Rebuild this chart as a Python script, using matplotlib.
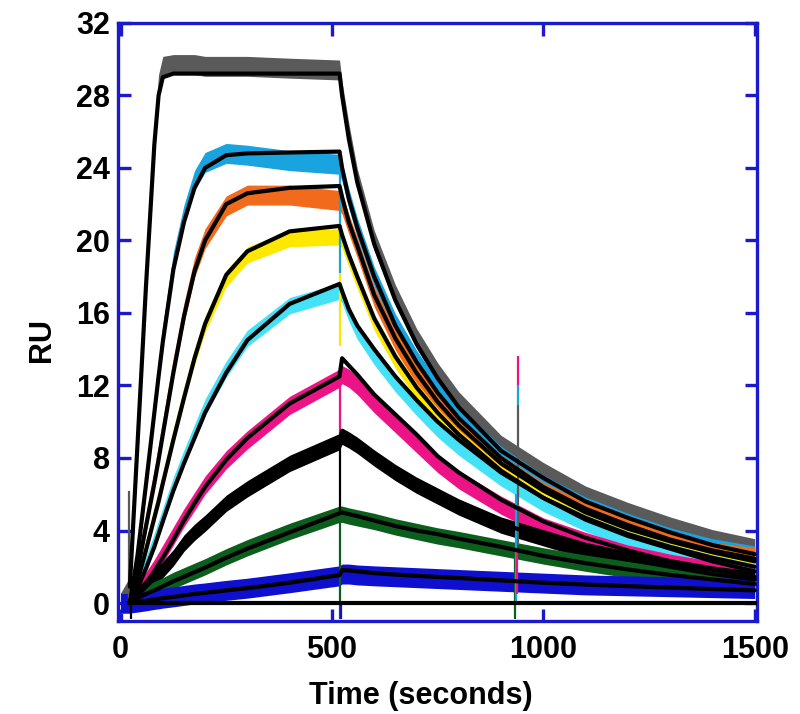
import matplotlib
matplotlib.use("Agg")
import matplotlib.pyplot as plt
import numpy as np

plt.rcParams['font.family'] = ['Liberation Sans', 'DejaVu Sans']
plt.rcParams['font.weight'] = 'bold'

# common time grid (seconds)
time_s = [0, 22, 40, 60, 80, 90, 100, 125, 150, 175, 200, 250, 300, 400, 518,
          524, 540, 560, 600, 650, 700, 750, 800, 900, 1000, 1100, 1200, 1300, 1400, 1500]

# fitted curves (RU)
gray_fit   = [0, 0.9, 8.7, 17.4, 25.3, 28.0, 29.0, 29.2, 29.2, 29.2, 29.2, 29.2, 29.2, 29.2, 29.2,
              28.0, 25.6, 23.2, 19.8, 16.7, 14.3, 12.4, 10.8, 8.4, 6.9, 5.6, 4.7, 3.9, 3.2, 2.7]
cyan_fit   = [0, 0, 2.6, 6.5, 10.5, 12.5, 14.4, 18.4, 21.0, 22.9, 24.0, 24.7, 24.8, 24.85, 24.9,
              24.0, 22.3, 20.7, 18.0, 15.3, 13.3, 11.6, 10.2, 8.0, 6.4, 5.2, 4.3, 3.5, 2.9, 2.45]
orange_fit = [0, 0, 1.8, 4.2, 6.6, 7.9, 9.3, 12.7, 15.8, 18.3, 20.0, 22.0, 22.6, 22.9, 23.0,
              22.4, 21.0, 19.7, 17.0, 14.6, 12.7, 11.1, 9.8, 7.7, 6.2, 5.0, 4.1, 3.4, 2.8, 2.3]
yellow_fit = [0, 0, 1.2, 2.9, 4.7, 5.6, 6.6, 9.0, 11.3, 13.5, 15.4, 18.1, 19.4, 20.5, 20.8,
              20.3, 19.2, 18.0, 15.7, 13.6, 11.9, 10.5, 9.3, 7.3, 5.8, 4.7, 3.8, 3.1, 2.5, 2.0]
aqua_fit   = [0, 0, 0.8, 1.9, 3.1, 3.8, 4.5, 6.2, 7.7, 9.1, 10.5, 12.7, 14.5, 16.5, 17.6,
              17.2, 16.2, 15.3, 14.0, 12.5, 11.2, 10.0, 9.0, 7.2, 5.8, 4.6, 3.7, 3.0, 2.3, 1.75]
pink_fit   = [0, 0, 0.45, 1.1, 1.75, 2.15, 2.5, 3.5, 4.55, 5.5, 6.4, 7.9, 9.1, 11.0, 12.5,
              13.5, 13.1, 12.6, 11.5, 10.4, 9.3, 8.1, 7.2, 5.7, 4.5, 3.6, 2.9, 2.3, 1.85, 1.45]
black_fit  = [0, 0, 0.4, 0.9, 1.35, 1.6, 1.85, 2.5, 3.3, 3.9, 4.4, 5.5, 6.3, 7.7, 8.9,
              9.5, 9.2, 8.9, 8.1, 7.3, 6.6, 6.0, 5.4, 4.4, 3.6, 2.9, 2.4, 2.0, 1.6, 1.3]
green_fit  = [0, 0, 0.25, 0.5, 0.7, 0.8, 0.92, 1.2, 1.45, 1.7, 1.95, 2.5, 3.0, 3.9, 4.95,
              5.0, 4.9, 4.8, 4.55, 4.25, 4.0, 3.8, 3.55, 3.1, 2.6, 2.2, 1.85, 1.55, 1.3, 1.05]
blue_fit   = [0, 0, 0.05, 0.12, 0.2, 0.23, 0.27, 0.34, 0.42, 0.5, 0.56, 0.7, 0.82, 1.12, 1.54,
              1.82, 1.8, 1.75, 1.65, 1.57, 1.5, 1.44, 1.38, 1.25, 1.12, 1.02, 0.93, 0.85, 0.77, 0.7]

# measured traces (centre of noisy data, RU)
gray_data   = [0, 0.9, 8.7, 17.6, 25.8, 28.6, 29.6, 29.7, 29.7, 29.7, 29.6, 29.6, 29.6, 29.5, 29.4,
               28.2, 25.9, 23.4, 20.0, 17.0, 14.6, 12.7, 11.1, 8.7, 7.2, 5.9, 5.0, 4.2, 3.5, 3.0]
cyan_data   = [0, 0, 2.7, 6.7, 10.8, 12.9, 14.8, 18.8, 21.4, 23.3, 24.3, 24.8, 24.7, 24.4, 24.2,
               23.8, 22.3, 20.7, 18.0, 15.4, 13.4, 11.7, 10.3, 8.1, 6.5, 5.3, 4.4, 3.6, 3.0, 2.6]
orange_data = [0, 0, 1.9, 4.4, 6.9, 8.2, 9.6, 13.0, 16.0, 18.5, 20.1, 21.9, 22.5, 22.5, 22.2,
               22.0, 20.9, 19.6, 16.9, 14.5, 12.6, 11.0, 9.7, 7.6, 6.1, 5.0, 4.1, 3.4, 2.8, 2.5]
yellow_data = [0, 0, 1.3, 3.0, 4.9, 5.8, 6.8, 9.2, 11.5, 13.6, 15.4, 17.9, 19.2, 20.1, 20.2,
               20.0, 19.0, 17.8, 15.5, 13.4, 11.7, 10.3, 9.1, 7.1, 5.7, 4.6, 3.7, 3.0, 2.4, 1.9]
aqua_data   = [0, 0, 0.9, 2.1, 3.4, 4.1, 4.8, 6.5, 8.0, 9.4, 10.8, 12.9, 14.6, 16.4, 17.2,
               17.0, 16.0, 15.0, 13.6, 12.1, 10.8, 9.6, 8.6, 6.9, 5.5, 4.4, 3.5, 2.8, 2.2, 1.7]
pink_data   = [0, 0, 0.5, 1.2, 1.9, 2.3, 2.7, 3.7, 4.7, 5.6, 6.5, 7.9, 9.0, 10.9, 12.4,
               12.6, 12.4, 12.0, 11.0, 9.9, 8.8, 7.7, 6.8, 5.4, 4.2, 3.4, 2.7, 2.2, 1.8, 1.4]
black_data  = [0, 0, 0.4, 0.9, 1.35, 1.6, 1.85, 2.5, 3.3, 3.9, 4.4, 5.5, 6.3, 7.7, 8.9,
               9.2, 9.0, 8.7, 8.0, 7.2, 6.5, 5.9, 5.3, 4.3, 3.6, 2.9, 2.4, 2.0, 1.6, 1.3]
green_data  = [0, 0, 0.3, 0.55, 0.75, 0.85, 0.95, 1.25, 1.5, 1.75, 2.0, 2.55, 3.05, 3.95, 4.9,
               4.9, 4.8, 4.7, 4.5, 4.2, 3.95, 3.7, 3.5, 3.05, 2.6, 2.2, 1.85, 1.55, 1.3, 1.1]
blue_data   = [0, 0, 0.05, 0.12, 0.2, 0.23, 0.27, 0.34, 0.42, 0.5, 0.56, 0.7, 0.82, 1.12, 1.5,
               1.6, 1.6, 1.55, 1.5, 1.45, 1.4, 1.35, 1.3, 1.2, 1.1, 1.0, 0.95, 0.9, 0.85, 0.8]

# half width of the noise band of each trace (RU)
noise_ru = [0.55, 0.55, 0.55, 0.45, 0.45, 0.5, 0.45, 0.45, 0.55]

# buffer (zero) fit
baseline_t = [20, 1500]
baseline_v = [0, 0]

# artefact spikes: time, low, high
spike_t  = [21, 24, 518, 518, 518, 518, 518, 521, 940, 940, 940, 934, 936, 938]
spike_lo = [0, -0.9, 18.2, 14.2, 8.6, 5.0, -0.9, -0.9, 3.2, 10.9, 12.0, -0.9, 0.0, 0.5]
spike_hi = [6.2, 0, 24.8, 18.2, 13.0, 9.2, 5.0, 0.0, 10.9, 12.0, 13.6, 2.6, 6.0, 3.0]
spike_c  = ['gray', 'black', 'cyanblue', 'yellow', 'pink', 'black', 'green', 'blue',
            'gray', 'cyanblue', 'pink', 'green', 'cyanblue', 'pink']

palette = {'gray': '#5a5a5a', 'cyanblue': '#19a3df', 'orange': '#f26a1b', 'yellow': '#ffe800',
           'aqua': '#45e1f7', 'pink': '#ec1387', 'black': '#000000', 'green': '#0b5e1c',
           'blue': '#0f0fd0'}
spine_color = '#1a1acc'

series = [
    ('gray', gray_data, gray_fit),
    ('cyanblue', cyan_data, cyan_fit),
    ('orange', orange_data, orange_fit),
    ('yellow', yellow_data, yellow_fit),
    ('aqua', aqua_data, aqua_fit),
    ('pink', pink_data, pink_fit),
    ('black', black_data, black_fit),
    ('green', green_data, green_fit),
    ('blue', blue_data, blue_fit),
]

fig = plt.figure(figsize=(8, 7.14), dpi=100)
ax = fig.add_axes([0.1475, 0.130, 0.7985, 0.838])

t = np.array(time_s, dtype=float)
for (name, d, f), hw in zip(series, noise_ru):
    d = np.array(d)
    ax.fill_between(t, d - hw, d + hw, color=palette[name], lw=0, zorder=2)

for ts, lo, hi, c in zip(spike_t, spike_lo, spike_hi, spike_c):
    ax.vlines(ts, lo, hi, color=palette[c], lw=1.6, zorder=3)

ax.plot(baseline_t, baseline_v, color='black', lw=3.0, zorder=4)
for name, d, f in series:
    ax.plot(t[1:], np.array(f)[1:], color='black', lw=3.0, zorder=4,
            solid_joinstyle='round', solid_capstyle='round')

ax.set_xlim(-6, 1505)
ax.set_ylim(-1.0, 32.0)
ax.set_xticks([0, 500, 1000, 1500])
ax.set_yticks(np.arange(0, 33, 4))

for sp in ax.spines.values():
    sp.set_color(spine_color)
    sp.set_linewidth(2.4)

ax.tick_params(axis='both', which='both', direction='in', length=9, width=2.4,
               color=spine_color, top=True, right=True, labelsize=22)
ax.tick_params(axis='x', pad=10)
ax.tick_params(axis='y', pad=6)
for lab in ax.get_xticklabels() + ax.get_yticklabels():
    lab.set_fontweight('bold')

ax.set_xlabel('Time (seconds)', fontsize=22, fontweight='bold', labelpad=12)
ax.xaxis.set_label_coords(0.474, -0.10)
ax.set_ylabel('RU', fontsize=22, fontweight='bold', labelpad=14)
ax.yaxis.set_label_coords(-0.095, 0.47)

fig.savefig('out.png', dpi=100)
